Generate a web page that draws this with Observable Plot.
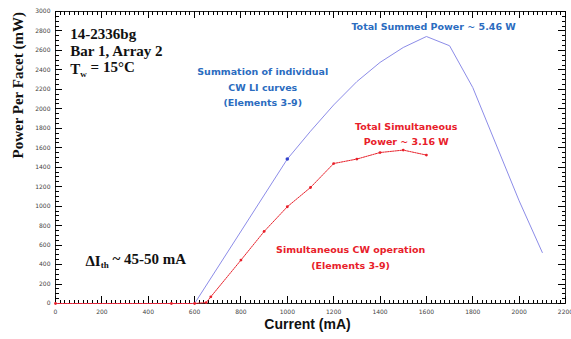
<!DOCTYPE html>
<html>
<head>
<meta charset="utf-8">
<script src="https://cdn.jsdelivr.net/npm/d3@7"></script>
<script src="https://cdn.jsdelivr.net/npm/@observablehq/plot@0.6"></script>
<style>
  html, body { margin: 0; padding: 0; background: #fff; }
  #chart svg { display: block; }
</style>
</head>
<body>
<div id="chart"></div>
<script>
// Summation of individual CW LI curves (mA, mW)
const sumCurrent = [0, 600, 1000, 1100, 1200, 1300, 1400, 1500, 1600, 1700, 1800, 2000, 2100];
const sumPower   = [0, 0, 1484, 1770, 2040, 2280, 2477, 2630, 2743, 2648, 2219, 1055, 524];
// Simultaneous CW operation (mA, mW)
const simCurrent = [0, 500, 600, 650, 670, 800, 900, 1000, 1100, 1200, 1300, 1400, 1500, 1600];
const simPower   = [0, 0, 0, 10, 69, 446, 740, 994, 1192, 1438, 1484, 1551, 1576, 1525];
// marked point on the summed curve
const markCurrent = [1000];
const markPower = [1484];
// ticks
const xLabelTicks = d3.range(0, 2201, 200);
const xMinorTicks = d3.range(0, 2201, 20);
const yLabelTicks = d3.range(0, 3001, 200);
const yMinorTicks = d3.range(0, 3001, 50);

const sumData = sumCurrent.map((c, i) => ({c, p: sumPower[i]}));
const simData = simCurrent.map((c, i) => ({c, p: simPower[i]}));
const markData = markCurrent.map((c, i) => ({c, p: markPower[i]}));

const W = 571, H = 339, ML = 55, MR = 6, MT = 11, MB = 36;
const FW = W - ML - MR, FH = H - MT - MB;
const XMAX = 2200, YMAX = 3000;
const ty = px => px * YMAX / FH;
const tx = px => px * XMAX / FW;

const BLUE_LINE = "#8c8ce8";
const BLUE_TEXT = "#2b6cc0";
const RED = "#e8202a";
const SERIF = "'Liberation Serif', 'DejaVu Serif', serif";
const ANN = "'DejaVu Sans', sans-serif";
const TK = "#000000";
const MINOR = 3.5, MAJOR = 7;

const tickOpts = {stroke: TK, strokeWidth: 1, shapeRendering: "crispEdges"};

const plot = Plot.plot({
  width: W,
  height: H,
  marginLeft: ML,
  marginRight: MR,
  marginTop: MT,
  marginBottom: MB,
  style: {fontFamily: "'DejaVu Sans', sans-serif", background: "#fff"},
  x: {domain: [0, XMAX]},
  y: {domain: [0, YMAX]},
  marks: [
    // tick labels
    Plot.axisX({anchor: "bottom", ticks: xLabelTicks, tickSize: 0, tickPadding: 6, fontSize: 6, fill: "#444", label: null, tickFormat: d => String(d)}),
    Plot.axisY({anchor: "left", ticks: yLabelTicks, tickSize: 0, tickPadding: 5, fontSize: 6, fill: "#444", label: null, tickFormat: d => String(d)}),
    Plot.frame({stroke: "#222"}),
    // inward ticks: bottom/top
    Plot.ruleX(xMinorTicks, {x: d => d, y1: 0, y2: ty(MINOR), ...tickOpts}),
    Plot.ruleX(xLabelTicks, {x: d => d, y1: 0, y2: ty(MAJOR), ...tickOpts}),
    Plot.ruleX(xMinorTicks, {x: d => d, y1: YMAX, y2: YMAX - ty(MINOR), ...tickOpts}),
    Plot.ruleX(xLabelTicks, {x: d => d, y1: YMAX, y2: YMAX - ty(MAJOR), ...tickOpts}),
    // inward ticks: left/right
    Plot.ruleY(yMinorTicks, {y: d => d, x1: 0, x2: tx(MINOR), ...tickOpts}),
    Plot.ruleY(yLabelTicks, {y: d => d, x1: 0, x2: tx(MAJOR), ...tickOpts}),
    Plot.ruleY(yMinorTicks, {y: d => d, x1: XMAX, x2: XMAX - tx(MINOR), ...tickOpts}),
    Plot.ruleY(yLabelTicks, {y: d => d, x1: XMAX, x2: XMAX - tx(MAJOR), ...tickOpts}),
    // curves
    Plot.line(sumData, {x: "c", y: "p", stroke: BLUE_LINE, strokeWidth: 1}),
    Plot.line(simData, {x: "c", y: "p", stroke: RED, strokeWidth: 1, strokeDasharray: "1.5,1"}),
    Plot.dot(simData, {x: "c", y: "p", r: 1.4, fill: RED, stroke: null}),
    Plot.dot(markData, {x: "c", y: "p", r: 1.8, fill: "#3344cc", stroke: null}),
    // axis titles
    Plot.text(["Power Per Facet (mW)"], {frameAnchor: "left", dx: -37, dy: 1, rotate: -90, fontSize: 15, fontWeight: "bold", fontFamily: SERIF, fill: "#111", letterSpacing: "0.6px"}),
    Plot.text(["Current (mA)"], {frameAnchor: "bottom", dx: -3, dy: 25, fontSize: 14, fontWeight: "bold", fontFamily: "'Liberation Sans', sans-serif", fill: "#111"}),
    // annotations
    Plot.text(["14-2336bg", "Bar 1, Array 2", "Tw = 15°C"], {x: 64, y: [2771, 2589, 2408], text: d => d, textAnchor: "start", fontSize: 15, fontWeight: "bold", fontFamily: SERIF, fill: "#111"}),
    Plot.text(["ΔIth ~ 45-50 mA"], {x: 129, y: 439, textAnchor: "start", fontSize: 15, fontWeight: "bold", fontFamily: SERIF, fill: "#111"}),
    Plot.text(["Summation of individual\nCW LI curves\n(Elements 3-9)"], {x: 894, y: 2240, fontSize: 9.5, fontWeight: "bold", fontFamily: ANN, fill: BLUE_TEXT, lineHeight: 1.65, letterSpacing: "0.35px"}),
    Plot.text(["Total Summed Power ~ 5.46 W"], {x: 1631, y: 2846, fontSize: 9.5, fontWeight: "bold", fontFamily: ANN, fill: BLUE_TEXT, letterSpacing: "0.3px"}),
    Plot.text(["Total Simultaneous\nPower ~ 3.16 W"], {x: 1513, y: 1752, fontSize: 9.5, fontWeight: "bold", fontFamily: ANN, fill: RED, lineHeight: 1.5, letterSpacing: "0.35px"}),
    Plot.text(["Simultaneous CW operation\n(Elements 3-9)"], {x: 1273, y: 487, fontSize: 9.5, fontWeight: "bold", fontFamily: ANN, fill: RED, lineHeight: 1.68, letterSpacing: "0.3px"})
  ]
});

// subscripts
d3.select(plot).selectAll("text").each(function() {
  const t = this.textContent;
  if (t === "Tw = 15°C") {
    const s = d3.select(this); s.text(null);
    s.append("tspan").text("T");
    s.append("tspan").attr("dy", "0.3em").attr("font-size", "9").text("w");
    s.append("tspan").attr("dy", "-0.3em").text(" = 15°C");
  } else if (t === "ΔIth ~ 45-50 mA") {
    const s = d3.select(this); s.text(null);
    s.append("tspan").text("ΔI");
    s.append("tspan").attr("dy", "0.3em").attr("font-size", "9").text("th");
    s.append("tspan").attr("dy", "-0.3em").text(" ~ 45-50 mA");
  }
});

document.getElementById("chart").appendChild(plot);
</script>
</body>
</html>
